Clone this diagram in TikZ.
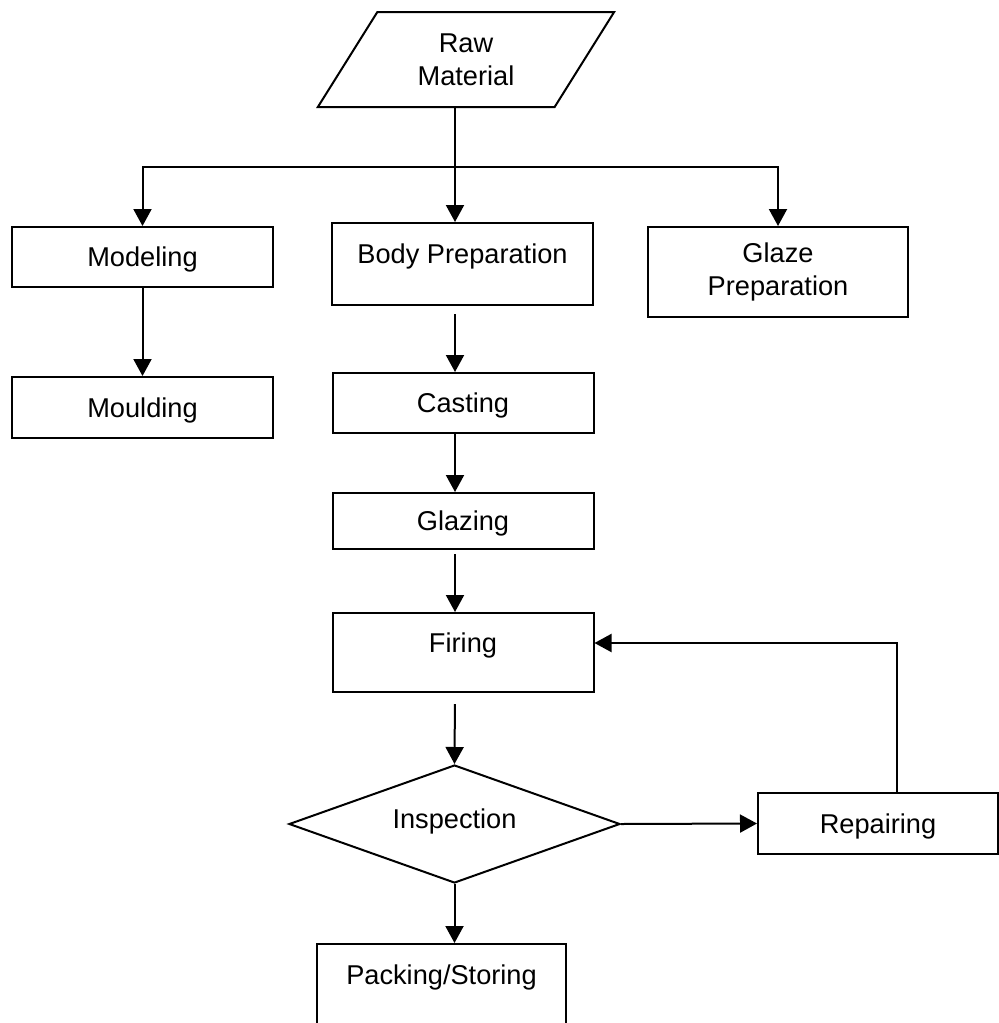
\documentclass[tikz,border=0pt]{standalone}
\usepackage{fontspec}
\setmainfont{Liberation Sans}
\usetikzlibrary{positioning, arrows.meta, shapes.geometric, calc}

\begin{document}
\begin{tikzpicture}[
    x=0.5pt, y=-0.5pt,
    box/.style={draw, line width=1pt, minimum width=130.5pt, inner sep=0pt, align=center, font={\fontsize{13.6}{16.5}\selectfont}},
    single/.style={text height=9.9pt, text depth=0pt},
    toptxt/.style={text height=9.9pt, text depth=10.4pt},
    io/.style={box, trapezium, trapezium left angle=58, trapezium right angle=122, trapezium stretches=true, minimum width=149pt, minimum height=47.5pt},
    decision/.style={box, diamond, shape aspect=2.8, minimum width=165.5pt, minimum height=59pt, text height=9.9pt, text depth=5.9pt},
    arr/.style={-{Triangle[length=8.5pt, width=9pt]}, line width=1pt}
]
\clip (0,0) rectangle (999,1023);
% Raw material on top
\node[io] (raw) at (466,59.5) {Raw\\Material};
\coordinate (split) at (455,167);
% First row: three branches
\node[box, single, minimum height=30pt] (modeling) at (142.5,257) {Modeling};
\node[box, toptxt, minimum height=41pt] (body) at (462.5,264) {Body Preparation};
\node[box, minimum width=130pt, minimum height=45pt] (glaze) at (778,272) {Glaze\\Preparation};
\node[box, single, minimum height=30.5pt] (moulding) at (142.5,407.5) {Moulding};
% Main column
\node[box, single, minimum height=30pt] (casting) at (463,403) {Casting};
\node[box, single, minimum height=28pt] (glazing) at (463,521) {Glazing};
\node[box, toptxt, minimum height=39.5pt] (firing) at (463,652.5) {Firing};
\node[decision] (insp) at (454.5,824) {Inspection};
\node[box, toptxt, minimum width=124.5pt, minimum height=41pt] (packing) at (441.5,985) {Packing/Storing};
% Repair loop on the right
\node[box, single, minimum width=120pt, minimum height=30.5pt] (repair) at (878,823.5) {Repairing};
\coordinate (back) at (897,643);

\draw[arr] (raw.south -| split) -- (body.north -| split);
\draw[arr] (split) -| (modeling.north);
\draw[arr] (split) -| (glaze.north);
\draw[arr] (modeling.south) -- (moulding.north);
\draw[arr, shorten <=4pt] (body.south -| split) -- (casting.north -| split);
\draw[arr] (casting.south -| split) -- (glazing.north -| split);
\draw[arr, shorten <=2pt] (glazing.south -| split) -- (firing.north -| split);
\draw[arr, shorten <=5.5pt] (firing.south -| split) -- (insp.north);
\draw[arr] (insp.east) -- (repair.west);
\draw[arr] (repair.north -| back) |- (firing.east |- back);
\draw[arr] (insp.south) -- (packing.north -| insp.south);
\end{tikzpicture}
\end{document}
